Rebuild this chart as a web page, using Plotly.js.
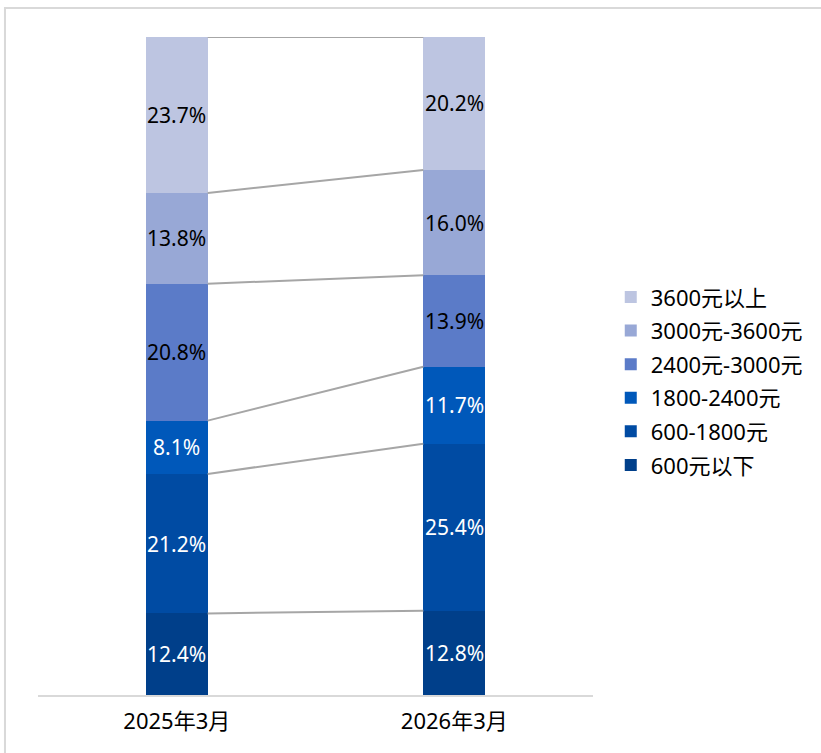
<!DOCTYPE html>
<html>
<head>
<meta charset="utf-8">
<script src="https://cdn.plot.ly/plotly-3.0.1.min.js"></script>
<style>html,body{margin:0;padding:0;background:#fff;}#chart{width:821px;height:753px;}</style>
</head>
<body>
<div id="chart"></div>
<script>
const categories = ["2025年3月", "2026年3月"];
const seriesNames = ["600元以下", "600-1800元", "1800-2400元", "2400元-3000元", "3000元-3600元", "3600元以上"];
const s600below = [12.4, 12.8];
const s600_1800 = [21.2, 25.4];
const s1800_2400 = [8.1, 11.7];
const s2400_3000 = [20.8, 13.9];
const s3000_3600 = [13.8, 16.0];
const s3600above = [23.7, 20.2];
const seriesValues = [s600below, s600_1800, s1800_2400, s2400_3000, s3000_3600, s3600above];
const colors = ["#003F8A", "#004BA3", "#0058BA", "#5B7BC8", "#98A8D6", "#BDC5E1"];
const textColors = ["#ffffff", "#ffffff", "#ffffff", "#000000", "#000000", "#000000"];

const FONT = "'Segoe UI', 'Noto Sans', 'Noto Sans CJK SC', sans-serif";
const barWidth = 0.223;
const traces = [];
const annotations = [];
const base = [0, 0];
seriesValues.forEach((vals, i) => {
  traces.push({
    type: "bar",
    name: seriesNames[i],
    x: categories,
    y: vals,
    width: barWidth,
    marker: {color: colors[i], line: {width: 0}},
    hoverinfo: "skip",
    legendgroup: "g" + i,
    legendrank: 100 - i
  });
  vals.forEach((v, j) => {
    annotations.push({
      x: categories[j], y: base[j] + v / 2, xref: "x", yref: "y",
      text: v.toFixed(1) + "%", showarrow: false,
      font: {family: FONT, size: 21, color: textColors[i]}
    });
    base[j] += v;
  });
});
// connector lines between cumulative boundaries
const cum = [0, 0];
for (let i = 0; i < seriesValues.length; i++) {
  cum[0] += seriesValues[i][0];
  cum[1] += seriesValues[i][1];
  traces.push({
    type: "scatter",
    mode: "lines",
    x: [0 + barWidth / 2, 1 - barWidth / 2],
    y: [cum[0], cum[1]],
    xaxis: "x2",
    line: {color: "#A6A6A6", width: 2},
    showlegend: false,
    hoverinfo: "skip"
  });
}

const layout = {
  width: 821, height: 753,
  margin: {l: 38, r: 228, t: 37, b: 58},
  barmode: "stack",
  paper_bgcolor: "#ffffff",
  plot_bgcolor: "#ffffff",
  font: {family: FONT, size: 21, color: "#000000"},
  showlegend: true,
  annotations: annotations,
  legend: {
    x: 1.032, xanchor: "left", y: 0.477, yanchor: "middle",
    traceorder: "grouped",
    tracegroupgap: 2,
    font: {family: FONT, size: 22, color: "#000000"},
    bgcolor: "rgba(0,0,0,0)"
  },
  xaxis: {
    type: "category",
    range: [-0.5, 1.5],
    showline: true, linecolor: "#D9D9D9", linewidth: 2,
    showgrid: false, zeroline: false, ticks: "",
    ticklabelstandoff: 6,
    tickfont: {family: FONT, size: 22, color: "#000000"}
  },
  xaxis2: {
    overlaying: "x", range: [-0.5, 1.5], visible: false, showgrid: false, zeroline: false
  },
  yaxis: {
    range: [0, 100], visible: false, showgrid: false, zeroline: false
  },
  shapes: [{
    type: "rect", xref: "paper", yref: "paper",
    x0: -0.0595, x1: 1.6, y0: -0.3, y1: 1.044,
    line: {color: "#D9D9D9", width: 2}, fillcolor: "rgba(0,0,0,0)", layer: "below"
  }]
};
Plotly.newPlot("chart", traces, layout, {displayModeBar: false, staticPlot: true});
</script>
</body>
</html>
